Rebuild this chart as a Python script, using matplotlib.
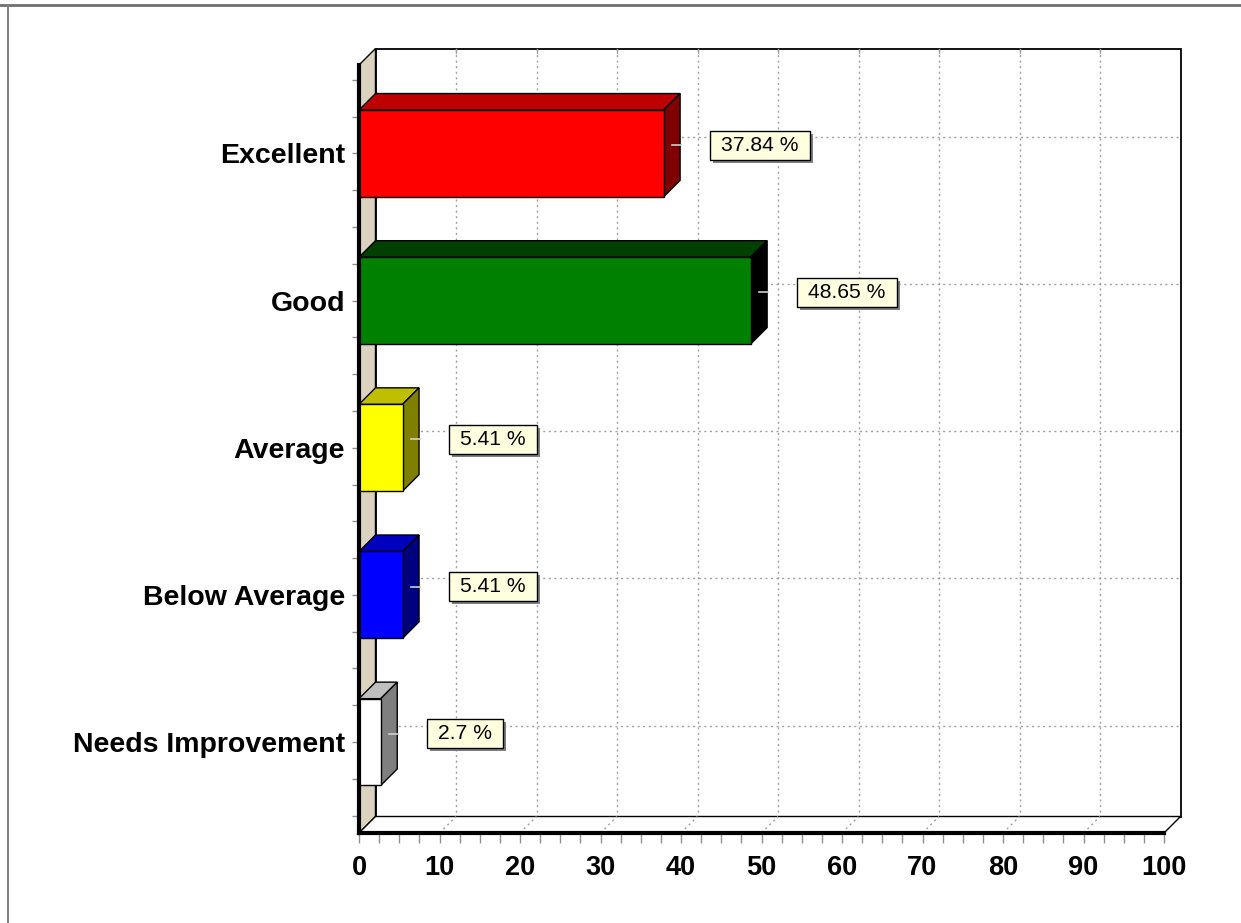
import matplotlib
matplotlib.use('Agg')
import matplotlib.pyplot as plt
from matplotlib.patches import Polygon, Rectangle
from matplotlib.lines import Line2D
from matplotlib.transforms import IdentityTransform
import numpy as np

# ---------------- data ----------------
categories = ['Excellent', 'Good', 'Average', 'Below Average', 'Needs Improvement']
values = [37.84, 48.65, 5.41, 5.41, 2.7]
value_labels = ['37.84 %', '48.65 %', '5.41 %', '5.41 %', '2.7 %']
bar_colors = ['#FF0000', '#008000', '#FFFF00', '#0000FF', '#FFFFFF']
x_ticks = list(range(0, 101, 10))
x_max = 100

plt.rcParams['font.family'] = ['Liberation Sans', 'DejaVu Sans']

W, H, DPI = 1241, 923, 100
fig = plt.figure(figsize=(W / DPI, H / DPI), dpi=DPI)
fig.patch.set_facecolor('white')

# front plane position (pixels)
L, R, T, B = 359, 1164, 65, 833
ax = fig.add_axes([L / W, 1 - B / H, (R - L) / W, (B - T) / H])
ax.patch.set_visible(False)

n = len(categories)
ypos = np.arange(n)
y_top, y_bot = -0.601, 4.618
ax.set_xlim(0, x_max)
ax.set_ylim(y_bot, y_top)

# depth of the 3D effect (pixels) converted to data units
DEPTH = 16.5
sx = ax.bbox.width / x_max
sy = ax.bbox.height / (y_bot - y_top)
dx = DEPTH / sx
dy = -DEPTH / sy

beige = '#DCD2C0'
grid_kw = dict(color='#A0A0A0', lw=1.0, linestyle=(0, (1.5, 2.5)), clip_on=False)

# back wall
ax.add_patch(Rectangle((dx, y_top + dy), x_max, y_bot - y_top, fc='white', ec='black',
                       lw=1.3, zorder=0.5, clip_on=False))
for xv in x_ticks[1:-1]:
    ax.add_line(Line2D([xv + dx, xv + dx], [y_top + dy, y_bot + dy], zorder=0.7, **grid_kw))
    ax.add_line(Line2D([xv + dx, xv + dx], [y_top + dy, y_top + dy + 5 / sy], color='#A0A0A0',
                       lw=1, zorder=0.7, clip_on=False))
for yv in ypos:
    ax.add_line(Line2D([dx, x_max + dx], [yv + dy, yv + dy], zorder=0.7, **grid_kw))

# left wall
ax.add_patch(Polygon([(0, y_top), (dx, y_top + dy), (dx, y_bot + dy), (0, y_bot)],
                     closed=True, fc=beige, ec='black', lw=1.0, zorder=1, clip_on=False))
# floor
ax.add_patch(Polygon([(0, y_bot), (dx, y_bot + dy), (x_max + dx, y_bot + dy), (x_max, y_bot)],
                     closed=True, fc='white', ec='black', lw=1.0, zorder=1, clip_on=False))
for xv in x_ticks[1:-1]:
    ax.add_line(Line2D([xv, xv + dx], [y_bot, y_bot + dy], zorder=1.2, **grid_kw))


def shade(hexcol, amount):
    h = hexcol.lstrip('#')
    return tuple(max(int(h[i:i + 2], 16) - amount, 0) / 255 for i in (0, 2, 4))


# bars
bh = 0.59
ax.barh(ypos, values, height=bh, color=bar_colors, edgecolor='black', linewidth=1.0, zorder=5)
for yv, v, c in zip(ypos, values, bar_colors):
    y0, y1 = yv - bh / 2, yv + bh / 2
    ax.add_patch(Polygon([(0, y0), (v, y0), (v + dx, y0 + dy), (dx, y0 + dy)], closed=True,
                         fc=shade(c, 0x40), ec='black', lw=1.0, zorder=4, clip_on=False))
    ax.add_patch(Polygon([(v, y0), (v + dx, y0 + dy), (v + dx, y1 + dy), (v, y1)], closed=True,
                         fc=shade(c, 0x80), ec='black', lw=1.0, zorder=4, clip_on=False))
    ax.add_line(Line2D([v + dx / 2, v + dx + 1 / sx], [yv + dy / 2, yv + dy / 2],
                       color='#D0D0D0', lw=1.2, zorder=6, clip_on=False))

# axes styling
for s in ['top', 'right']:
    ax.spines[s].set_visible(False)
for s in ['left', 'bottom']:
    ax.spines[s].set_linewidth(3)
    ax.spines[s].set_color('black')
    ax.spines[s].set_zorder(8)

ax.set_yticks(ypos)
ax.set_yticklabels(categories, fontsize=20.5, fontweight='bold')
ax.set_yticks(np.arange(-0.5, 4.51, 0.25), minor=True)
ax.set_xticks(x_ticks)
ax.set_xticklabels([str(t) for t in x_ticks], fontsize=19.5, fontweight='bold')
ax.set_xticks(np.arange(0, 100.1, 2.5), minor=True)
ax.tick_params(axis='y', which='both', length=5, width=1, color='#909090', pad=5, direction='out')
ax.tick_params(axis='x', which='both', length=7, width=1, color='#909090', pad=8.5, direction='out')

# value labels
FS = 15.2
PADX = 11
texts = []
for yv, v, lab in zip(ypos, values, value_labels):
    t = ax.text(v + dx + (30 + PADX) / sx, yv + dy / 2, lab, fontsize=FS,
                ha='left', va='center', zorder=12, clip_on=False)
    texts.append(t)

fig.canvas.draw()
rend = fig.canvas.get_renderer()
for t in texts:
    bb = t.get_window_extent(rend)
    ycen = ax.transData.transform((0, t.get_position()[1]))[1]
    x0, x1 = bb.x0 - PADX, bb.x1 + PADX
    y0, y1 = ycen - 14.5, ycen + 14.5
    fig.patches.append(Rectangle((x0 + 3, y0 - 3), x1 - x0, y1 - y0, fc='#808080', ec='none',
                                 transform=IdentityTransform(), figure=fig, zorder=10))
    fig.patches.append(Rectangle((x0, y0), x1 - x0, y1 - y0, fc='#FFFFE0', ec='black', lw=1.0,
                                 transform=IdentityTransform(), figure=fig, zorder=11))
    t.remove()
    fig.text(bb.x0 / W, ycen / H, t.get_text(), fontsize=FS, ha='left', va='center', zorder=12)

# outer frame lines
fig.add_artist(Line2D([0, 1], [1 - 5 / H, 1 - 5 / H], transform=fig.transFigure, color='#707070', lw=2))
fig.add_artist(Line2D([8 / W, 8 / W], [0, 1 - 5 / H], transform=fig.transFigure, color='#808080', lw=1.5))

fig.savefig('out.png', dpi=DPI)
